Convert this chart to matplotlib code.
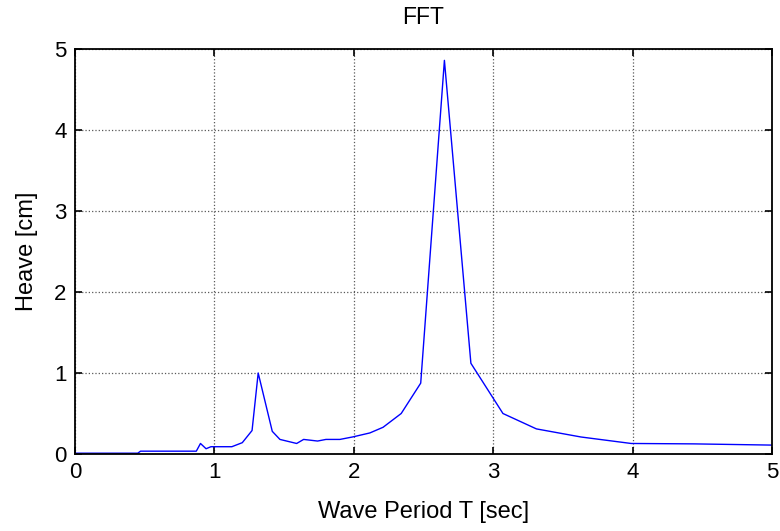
import matplotlib
matplotlib.use('Agg')
import matplotlib.pyplot as plt

# FFT of heave
period = [0.01, 0.45, 0.47, 0.87, 0.90, 0.94, 0.975, 1.125, 1.20, 1.27, 1.314,
          1.415, 1.47, 1.59, 1.64, 1.74, 1.80, 1.90, 1.99, 2.115, 2.21, 2.34,
          2.48, 2.65, 2.84, 3.07, 3.31, 3.63, 3.99, 4.44, 5.0]
heave = [0.01, 0.01, 0.035, 0.035, 0.13, 0.065, 0.09, 0.09, 0.14, 0.29, 1.0,
         0.28, 0.18, 0.13, 0.18, 0.16, 0.18, 0.18, 0.21, 0.26, 0.33, 0.50,
         0.875, 4.86, 1.12, 0.50, 0.31, 0.21, 0.13, 0.125, 0.11]
xticks = [0, 1, 2, 3, 4, 5]
yticks = [0, 1, 2, 3, 4, 5]

plt.rcParams['font.family'] = ['Liberation Sans', 'DejaVu Sans']

fig = plt.figure(figsize=(7.8, 5.31), dpi=100)
ax = fig.add_axes([0.0962, 0.145, 0.8935, 0.7627])

ax.plot(period, heave, color=(0, 0, 1), linewidth=1.0)

ax.set_xlim(0, 5)
ax.set_ylim(0, 5)
ax.set_xticks(xticks)
ax.set_yticks(yticks)
ax.grid(True, linestyle=':', color='0.35', linewidth=0.9)
ax.tick_params(direction='in', length=5, width=1.2, top=True, right=True,
               labelsize=16, pad=6)
for s in ax.spines.values():
    s.set_linewidth(1.3)

ax.set_xlabel('Wave Period T [sec]', fontsize=17, labelpad=13)
ax.set_ylabel('Heave [cm]', fontsize=17, labelpad=12)
ax.set_title('FFT', fontsize=16.5, pad=18)

fig.savefig('out.png', dpi=100)
